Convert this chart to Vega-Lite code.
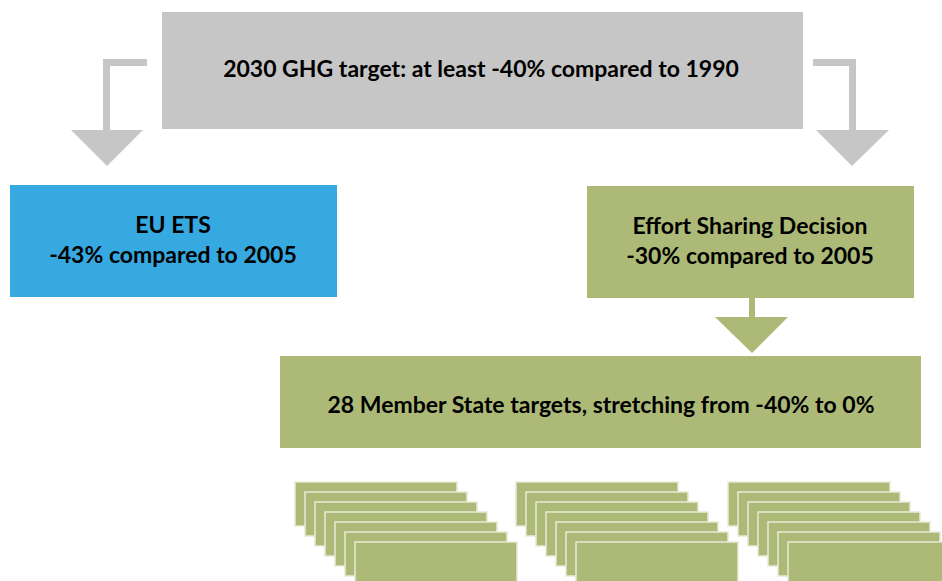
{
  "$schema": "https://vega.github.io/schema/vega-lite/v6.json",
  "width": 942,
  "height": 581,
  "autosize": {"type": "fit", "contains": "padding"},
  "padding": 0,
  "background": "white",
  "config": {"view": {"stroke": null}},
  "datasets": {
    "rects": [
      {"part": "target", "x": 162, "x2": 803, "y": 12, "y2": 129, "kind": "grey"},
      {"part": "left shaft h", "x": 103, "x2": 147, "y": 59, "y2": 66, "kind": "grey"},
      {"part": "left shaft v", "x": 103, "x2": 110, "y": 59, "y2": 131, "kind": "grey"},
      {"part": "right shaft h", "x": 813, "x2": 856, "y": 59, "y2": 66, "kind": "grey"},
      {"part": "right shaft v", "x": 849, "x2": 856, "y": 59, "y2": 131, "kind": "grey"},
      {"part": "EU ETS", "x": 10, "x2": 337, "y": 185, "y2": 297, "kind": "blue"},
      {"part": "ESD", "x": 587, "x2": 914, "y": 186, "y2": 298, "kind": "green"},
      {"part": "ESD shaft", "x": 749, "x2": 755, "y": 297, "y2": 318, "kind": "green"},
      {"part": "Member States", "x": 280, "x2": 921, "y": 356, "y2": 448, "kind": "green"}
    ],
    "triangles": [
      {"arrow": "left", "px": 71, "top": 130, "bottom": 130, "kind": "grey"},
      {"arrow": "left", "px": 107, "top": 130, "bottom": 166, "kind": "grey"},
      {"arrow": "left", "px": 143, "top": 130, "bottom": 130, "kind": "grey"},
      {"arrow": "right", "px": 816, "top": 130, "bottom": 130, "kind": "grey"},
      {"arrow": "right", "px": 852, "top": 130, "bottom": 166, "kind": "grey"},
      {"arrow": "right", "px": 889, "top": 130, "bottom": 130, "kind": "grey"},
      {"arrow": "esd", "px": 715, "top": 317, "bottom": 317, "kind": "green"},
      {"arrow": "esd", "px": 752, "top": 317, "bottom": 353, "kind": "green"},
      {"arrow": "esd", "px": 788, "top": 317, "bottom": 317, "kind": "green"}
    ],
    "cards": [
      {"group": 1, "n": 1, "x": 295, "x2": 457, "y": 482, "y2": 526},
      {"group": 1, "n": 2, "x": 305, "x2": 467, "y": 492, "y2": 536},
      {"group": 1, "n": 3, "x": 315, "x2": 477, "y": 502, "y2": 546},
      {"group": 1, "n": 4, "x": 325, "x2": 487, "y": 512, "y2": 556},
      {"group": 1, "n": 5, "x": 335, "x2": 497, "y": 522, "y2": 566},
      {"group": 1, "n": 6, "x": 345, "x2": 507, "y": 532, "y2": 576},
      {"group": 1, "n": 7, "x": 355, "x2": 517, "y": 542, "y2": 586},
      {"group": 2, "n": 1, "x": 516, "x2": 678, "y": 482, "y2": 526},
      {"group": 2, "n": 2, "x": 526, "x2": 688, "y": 492, "y2": 536},
      {"group": 2, "n": 3, "x": 536, "x2": 698, "y": 502, "y2": 546},
      {"group": 2, "n": 4, "x": 546, "x2": 708, "y": 512, "y2": 556},
      {"group": 2, "n": 5, "x": 556, "x2": 718, "y": 522, "y2": 566},
      {"group": 2, "n": 6, "x": 566, "x2": 728, "y": 532, "y2": 576},
      {"group": 2, "n": 7, "x": 576, "x2": 738, "y": 542, "y2": 586},
      {"group": 3, "n": 1, "x": 728, "x2": 890, "y": 482, "y2": 526},
      {"group": 3, "n": 2, "x": 738, "x2": 900, "y": 492, "y2": 536},
      {"group": 3, "n": 3, "x": 748, "x2": 910, "y": 502, "y2": 546},
      {"group": 3, "n": 4, "x": 758, "x2": 920, "y": 512, "y2": 556},
      {"group": 3, "n": 5, "x": 768, "x2": 930, "y": 522, "y2": 566},
      {"group": 3, "n": 6, "x": 778, "x2": 940, "y": 532, "y2": 576},
      {"group": 3, "n": 7, "x": 788, "x2": 950, "y": 542, "y2": 586}
    ],
    "labels": [
      {"text": "2030 GHG target: at least -40% compared to 1990", "x": 481, "y": 77},
      {"text": "EU ETS", "x": 173, "y": 233},
      {"text": "-43% compared to 2005", "x": 173, "y": 263},
      {"text": "Effort Sharing Decision", "x": 750, "y": 234},
      {"text": "-30% compared to 2005", "x": 750, "y": 264},
      {"text": "28 Member State targets, stretching from -40% to 0%", "x": 601, "y": 413}
    ]
  },
  "layer": [
    {
      "data": {"name": "rects"},
      "mark": {"type": "rect"},
      "encoding": {
        "x": {"field": "x", "type": "quantitative", "scale": {"domain": [0, 942], "nice": false, "zero": false}, "axis": null},
        "x2": {"field": "x2"},
        "y": {"field": "y", "type": "quantitative", "scale": {"domain": [0, 581], "nice": false, "zero": false, "reverse": true}, "axis": null},
        "y2": {"field": "y2"},
        "color": {"field": "kind", "type": "nominal", "scale": {"domain": ["grey", "blue", "green"], "range": ["#c6c6c6", "#36a9e1", "#adba77"]}, "legend": null}
      }
    },
    {
      "data": {"name": "triangles"},
      "mark": {"type": "area", "orient": "vertical", "interpolate": "linear"},
      "encoding": {
        "x": {"field": "px", "type": "quantitative"},
        "y": {"field": "top", "type": "quantitative"},
        "y2": {"field": "bottom"},
        "detail": {"field": "arrow"},
        "color": {"field": "kind", "type": "nominal", "legend": null}
      }
    },
    {
      "data": {"name": "cards"},
      "mark": {"type": "rect", "fill": "#adba77", "stroke": "#e6ead6", "strokeWidth": 1.5, "clip": true},
      "encoding": {
        "x": {"field": "x", "type": "quantitative"},
        "x2": {"field": "x2"},
        "y": {"field": "y", "type": "quantitative"},
        "y2": {"field": "y2"}
      }
    },
    {
      "data": {"name": "labels"},
      "mark": {"type": "text", "font": "Lato", "fontWeight": "bold", "fontSize": 23, "color": "#000000", "align": "center", "baseline": "alphabetic"},
      "encoding": {
        "x": {"field": "x", "type": "quantitative"},
        "y": {"field": "y", "type": "quantitative"},
        "text": {"field": "text"}
      }
    }
  ]
}
